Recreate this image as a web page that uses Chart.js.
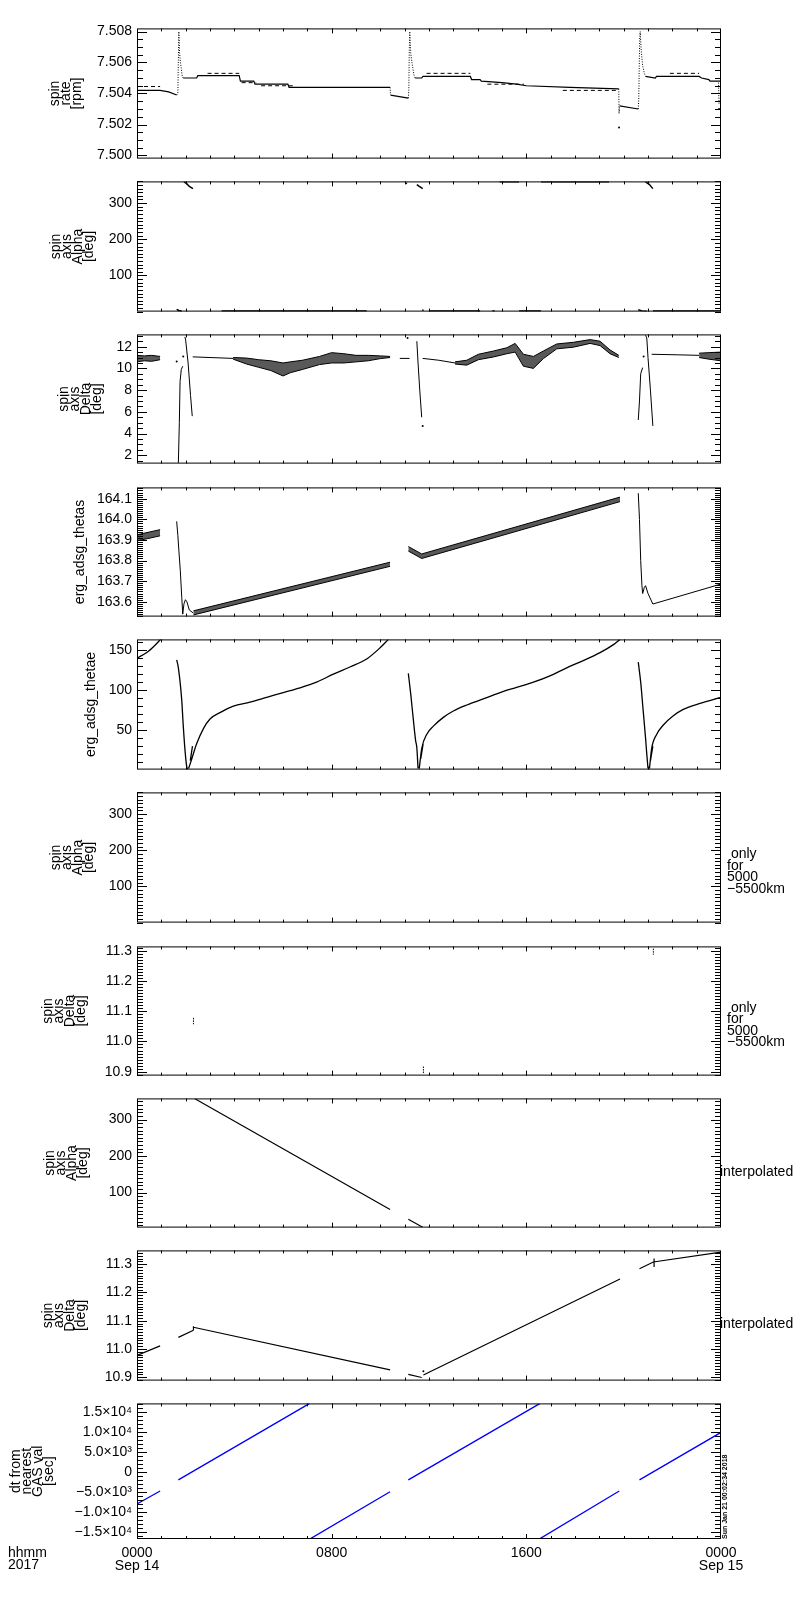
<!DOCTYPE html>
<html>
<head>
<meta charset="utf-8">
<script src="https://cdn.jsdelivr.net/npm/chart.js@4.4.1/dist/chart.umd.min.js"></script>
<style>
  html, body { margin: 0; padding: 0; background: #fff; }
  #page { position: relative; width: 800px; height: 1600px; overflow: hidden; }
  .panel { position: absolute; left: 0; width: 800px; }
</style>
</head>
<body>
<div id="page"></div>
<script>
// x axis: hours since 0000 Sep 14 2017
const hourTicks = [0, 8, 16, 24];
const hourLabels = [['0000', 'Sep 14'], ['0800'], ['1600'], ['0000', 'Sep 15']];

// y tick values per panel
const rateTicks = [7.500, 7.502, 7.504, 7.506, 7.508];
const alphaTicks = [100, 200, 300];
const deltaTicks = [2, 4, 6, 8, 10, 12];
const thetasTicks = [163.6, 163.7, 163.8, 163.9, 164.0, 164.1];
const thetaeTicks = [50, 100, 150];
const deltaFineTicks = [10.9, 11.0, 11.1, 11.2, 11.3];
const dtTicks = [-15000, -10000, -5000, 0, 5000, 10000, 15000];

// spin rate [rpm]
const rateT = [[0, 0.95, 1.3, 1.63],
  [1.90, 2.45, 2.5, 4.2, 4.25, 4.8, 4.85, 6.2, 6.25, 10.4],
  [10.42, 11.15],
  [11.43, 11.7, 11.75, 13.7, 13.75, 14.1, 14.15, 15.0, 15.6, 16.0, 17.8, 19.8],
  [19.83, 20.6],
  [20.9, 21.3, 21.35, 23.1, 23.2, 23.5, 23.55, 24]];
const rateV = [[7.5042, 7.5042, 7.5041, 7.5039],
  [7.5050, 7.5050, 7.50515, 7.50515, 7.5048, 7.5048, 7.5046, 7.5046, 7.5044, 7.5044],
  [7.5039, 7.5037],
  [7.5050, 7.5050, 7.5051, 7.5051, 7.5049, 7.5049, 7.5048, 7.5047, 7.5046, 7.5045, 7.5044, 7.5043],
  [7.5032, 7.5030],
  [7.5051, 7.5050, 7.5051, 7.5051, 7.5050, 7.5049, 7.5048, 7.5048]];
const rateSpikeT = [[1.63, 1.68, 1.70, 1.72, 1.75, 1.78, 1.82, 1.86, 1.90],
  [10.4, 10.42],
  [11.15, 11.17, 11.19, 11.21, 11.25, 11.30, 11.38, 11.43],
  [19.8, 19.81, 19.83],
  [20.6, 20.62, 20.64, 20.66, 20.68, 20.72, 20.78, 20.85, 20.9],
  [23.9, 23.92]];
const rateSpikeV = [[7.5039, 7.5040, 7.5062, 7.5080, 7.5066, 7.5061, 7.5056, 7.5051, 7.5050],
  [7.5044, 7.5039],
  [7.5037, 7.5042, 7.5068, 7.5080, 7.5066, 7.5060, 7.5052, 7.5050],
  [7.5043, 7.5027, 7.5032],
  [7.5030, 7.5036, 7.5058, 7.5076, 7.5080, 7.5068, 7.5058, 7.5053, 7.5051],
  [7.5047, 7.5033]];
const rateLevelT = [[0, 0.95], [2.9, 4.2], [4.3, 4.9], [5.1, 6.4], [11.9, 13.7], [14.4, 15.9], [17.5, 19.8], [21.9, 23.1]];
const rateLevelV = [[7.50445, 7.50445], [7.5053, 7.5053], [7.5047, 7.5047], [7.5045, 7.5045],
  [7.5053, 7.5053], [7.5046, 7.5046], [7.5042, 7.5042], [7.5053, 7.5053]];
const rateDotT = [19.81, 23.92];
const rateDotV = [7.5018, 7.5030];

// spin axis Alpha [deg]
const alphaT = [[1.63, 1.72, 1.84], [1.93, 2.05, 2.15, 2.30], [3.48, 9.44], [11.06, 11.1],
  [11.5, 11.6, 11.74], [11.74, 11.76], [12.0, 14.1], [14.6, 14.7], [15.7, 16.6], [14.9, 15.7],
  [16.6, 19.4], [20.6, 20.75, 20.95], [20.9, 21.05, 21.2], [21.2, 24]];
const alphaV = [[6, 3, 1], [359, 353, 346, 340], [2, 2], [355, 354],
  [351, 346, 340], [6, 2], [2, 2], [2, 2], [2, 2], [359, 359],
  [359, 359], [5, 2, 1], [359, 352, 340], [2, 2]];

// spin axis Delta [deg]
const deltaT = [[1.70, 1.74, 1.77, 1.82, 1.88], [1.97, 2.0, 2.1, 2.2, 2.27], [2.29, 3.0, 3.95],
  [10.8, 11.2], [11.5, 11.55, 11.62, 11.7], [11.74, 12.4, 13.07],
  [20.6, 20.65, 20.7, 20.78], [20.9, 20.95, 21.0, 21.1, 21.2], [21.15, 22.2, 23.1]];
const deltaV = [[1.3, 5, 8.8, 9.9, 10.2], [12.9, 12.6, 10.5, 7.5, 5.6], [11.06, 11.0, 10.92],
  [10.92, 10.92], [12.5, 10.5, 8, 5.5], [10.92, 10.75, 10.5],
  [5.25, 7.0, 9.5, 10.07], [13.05, 12.8, 11.0, 8, 4.7], [11.3, 11.25, 11.2]];
const deltaDotT = [1.63, 1.90, 11.12, 11.74, 20.82];
const deltaDotV = [10.64, 11.1, 12.8, 4.7, 11.1];
const deltaBandT = [[0, 0.3, 0.6, 0.95],
  [3.95, 4.5, 5.0, 5.5, 6.0, 6.3, 6.8, 7.5, 8.0, 8.5, 9.0, 9.5, 10.0, 10.4],
  [13.07, 13.55, 14.03, 14.65, 15.2, 15.54, 15.88, 16.29, 16.7, 17.25, 17.93, 18.62, 19.03, 19.44, 19.8],
  [23.1, 23.5, 24]];
const deltaBandHi = [[11.2, 11.15, 11.2, 11.1],
  [11.0, 10.95, 10.8, 10.7, 10.5, 10.6, 10.75, 11.1, 11.45, 11.35, 11.2, 11.2, 11.15, 11.1],
  [10.6, 10.75, 11.3, 11.6, 11.9, 12.3, 11.3, 11.1, 11.6, 12.25, 12.4, 12.65, 12.5, 11.7, 11.2],
  [11.4, 11.45, 11.5]];
const deltaBandLo = [[10.6, 10.7, 10.65, 10.8],
  [10.85, 10.4, 10.1, 9.8, 9.3, 9.6, 9.9, 10.35, 10.5, 10.5, 10.6, 10.7, 10.9, 11.0],
  [10.4, 10.3, 10.8, 11.05, 11.35, 11.5, 10.2, 10.0, 10.9, 11.8, 11.95, 12.3, 12.1, 11.35, 11.0],
  [11.0, 10.85, 10.7]];

// erg_adsg_thetas
const thetasT = [[1.63, 1.68, 1.72, 1.78, 1.84, 1.88, 1.93, 1.99, 2.05, 2.15, 2.32],
  [20.6, 20.65, 20.7, 20.75, 20.78, 20.85, 20.9, 21.0, 21.2, 24]];
const thetasV = [[163.99, 163.92, 163.85, 163.75, 163.62, 163.54, 163.59, 163.61, 163.60, 163.56, 163.545],
  [164.127, 164.0, 163.8, 163.68, 163.64, 163.67, 163.678, 163.64, 163.589, 163.686]];
const thetasBandT = [[0, 0.95], [2.32, 10.4], [11.15, 11.7, 19.85]];
const thetasBandHi = [[163.925, 163.95], [163.556, 163.792], [163.868, 163.832, 164.108]];
const thetasBandLo = [[163.895, 163.92], [163.536, 163.772], [163.846, 163.81, 164.086]];

// erg_adsg_thetae
const thetaeT = [[0, 0.4, 0.7, 0.97],
  [1.63, 1.70, 1.84, 1.90, 1.97, 2.04, 2.08],
  [2.12, 2.25, 2.45, 2.73, 3.0, 3.41, 3.96, 4.64, 5.33, 6.01, 6.7, 7.38, 8.07, 8.75, 9.44, 9.99, 10.33],
  [2.19, 2.28],
  [11.15, 11.25, 11.35, 11.45, 11.5, 11.55],
  [11.6, 11.7, 11.91, 12.18, 12.59, 13.0, 13.55, 14.23, 14.92, 15.6, 16.29, 16.97, 17.66, 18.34, 19.03, 19.58, 19.85],
  [11.66, 11.76],
  [20.6, 20.7, 20.8, 20.9, 20.95, 21.0],
  [21.06, 21.15, 21.36, 21.63, 22.04, 22.45, 23.14, 24],
  [21.1, 21.2]];
const thetaeV = [[140, 147, 155, 163.5],
  [138, 128, 87, 56, 26, 5, 1],
  [2, 14, 33, 52, 64, 72, 80, 85, 91, 97, 103, 110, 120, 129, 139, 153, 163.5],
  [12, 30],
  [121, 95, 65, 37, 28, 2],
  [2, 27, 45, 55, 66, 74, 81.5, 89, 97, 103.5, 110, 118, 128, 137, 147, 157, 163.5],
  [14, 33],
  [135, 110, 75, 40, 20, 2],
  [2, 27, 45, 56.5, 68, 76, 83.5, 91],
  [12, 30]];

// spin axis Delta, 5000-5500 km only
const deltaKmT = [[2.32, 2.32], [11.77, 11.77], [21.22, 21.22]];
const deltaKmV = [[11.078, 11.057], [10.917, 10.893], [11.307, 11.287]];

// spin axis Alpha, interpolated
const alphaIntT = [[2.38, 10.4], [11.15, 11.74]];
const alphaIntV = [[357.5, 53.7], [26.6, 4.7]];

// spin axis Delta, interpolated
const deltaIntT = [[0, 0.95], [1.7, 2.32], [2.32, 10.4], [11.15, 11.7], [11.77, 19.85],
  [20.65, 21.22, 24], [2.32, 2.32], [21.25, 21.25]];
const deltaIntV = [[10.977, 11.011], [11.041, 11.066], [11.077, 10.926], [10.910, 10.899], [10.908, 11.248],
  [11.284, 11.308, 11.343], [11.066, 11.08], [11.29, 11.32]];
const deltaIntDotT = [11.77];
const deltaIntDotV = [10.921];

// dt from nearest GAS val [sec]
const dtT = [[0, 0.95], [1.7, 7.08], [7.1, 10.4], [11.15, 16.55], [16.53, 19.82], [20.65, 24]];
const dtV = [[-8029, -4808], [-2016, 17050], [-16827, -4976], [-2016, 17050], [-16827, -4808], [-2016, 9856]];

const FONT = "'Liberation Sans', Arial, sans-serif";
const PANEL_TOPS = [23, 176, 329, 482, 634, 787, 941, 1093, 1245, 1398];
const PANEL_BOTTOMS = [164, 317, 469, 622, 775, 928, 1081, 1233, 1386, 1539];
const PLOT_LEFT = 137, PLOT_RIGHT = 721;

function segs(T, V) {
  const pts = [];
  T.forEach((s, k) => {
    s.forEach((t, i) => pts.push({ x: t, y: V[k][i] }));
    pts.push({ x: s[s.length - 1], y: null });
  });
  return pts;
}
function lines(T, V, extra) {
  return Object.assign({ data: segs(T, V), borderColor: '#000', borderWidth: 1.2, pointRadius: 0,
    spanGaps: false, fill: false, tension: 0 }, extra || {});
}
function dots(T, V, color) {
  return { data: T.map((t, i) => ({ x: t, y: V[i] })), showLine: false, pointRadius: 1,
    pointBackgroundColor: color || '#000', pointBorderWidth: 0, borderColor: color || '#000' };
}
function bands(T, hi, lo) {
  const out = [];
  T.forEach((s, k) => {
    out.push({ data: s.map((t, i) => ({ x: t, y: hi[k][i] })), borderColor: '#000', borderWidth: 1,
      pointRadius: 0, fill: false });
    out.push({ data: s.map((t, i) => ({ x: t, y: lo[k][i] })), borderColor: '#000', borderWidth: 1,
      pointRadius: 0, fill: '-1', backgroundColor: 'rgba(0,0,0,0.65)' });
  });
  return out;
}
function sci(v) {
  if (v === 0) return '0';
  const sup = { 3: '\u00b3', 4: '\u2074' };
  const e = Math.floor(Math.log10(Math.abs(v)));
  const m = v / Math.pow(10, e);
  return (m < 0 ? '\u2212' : '') + Math.abs(m).toFixed(1) + '\u00d710' + sup[e];
}

// IDL style frame: box, inward ticks on all four sides, side notes
const idlFrame = {
  id: 'idlFrame',
  afterDatasetsDraw(chart, args, opts) {
    const { ctx, chartArea: a, scales: { x, y } } = chart;
    ctx.save();
    ctx.strokeStyle = '#000';
    ctx.lineWidth = 1;
    ctx.strokeRect(a.left + 0.5, a.top + 0.5, a.width - 1, a.height - 1);
    ctx.beginPath();
    const k0 = Math.ceil(y.min / opts.minor - 1e-6), k1 = Math.floor(y.max / opts.minor + 1e-6);
    for (let k = k0; k <= k1; k++) {
      const v = k * opts.minor;
      const major = opts.major.some(m => Math.abs(m - v) < opts.minor / 10);
      const len = major ? 10 : 6;
      const py = Math.round(y.getPixelForValue(v)) + 0.5;
      ctx.moveTo(a.left, py); ctx.lineTo(a.left + len, py);
      ctx.moveTo(a.right, py); ctx.lineTo(a.right - len, py);
    }
    for (let h = 1; h < 24; h++) {
      const len = h % 8 === 0 ? 5 : 3;
      const px = Math.round(x.getPixelForValue(h)) + 0.5;
      ctx.moveTo(px, a.top); ctx.lineTo(px, a.top + len);
      ctx.moveTo(px, a.bottom); ctx.lineTo(px, a.bottom - len);
    }
    ctx.stroke();
    ctx.fillStyle = '#000';
    ctx.textBaseline = 'middle';
    ctx.textAlign = 'left';
    const cy = (a.top + a.bottom) / 2;
    if (opts.side) {
      ctx.font = '14px ' + FONT;
      opts.side.lines.forEach((s, i) => ctx.fillText(s, a.right + opts.side.dx, cy + opts.side.dy + i * 11.5));
    }
    if (opts.footer) {
      ctx.font = '14px ' + FONT;
      ctx.fillText('hhmm', 8, a.bottom + 14);
      ctx.fillText('2017', 8, a.bottom + 26.5);
      ctx.save();
      ctx.translate(a.right + 4, a.bottom);
      ctx.rotate(-Math.PI / 2);
      ctx.font = 'bold 7px ' + FONT;
      ctx.fillText('Sun Jan 21 00:02:34 2018', 0, 0);
      ctx.restore();
    }
    ctx.restore();
  }
};

const onlyNote = { lines: [' only', 'for', '5000', '\u22125500km'], dx: 6, dy: -3 };
const interpNote = { lines: ['interpolated'], dx: -1, dy: 9 };

const panels = [
  { title: ['spin', 'rate', '[rpm]'], left: 50, min: 7.4998, max: 7.5082, ticks: rateTicks, minor: 0.0005,
    fmt: v => v.toFixed(3),
    datasets: [lines(rateT, rateV), lines(rateSpikeT, rateSpikeV, { borderWidth: 1, borderDash: [1, 1.5] }),
      lines(rateLevelT, rateLevelV, { borderWidth: 1, borderDash: [4, 3] }), dots(rateDotT, rateDotV)] },
  { title: ['spin', 'axis', 'Alpha', '[deg]'], left: 51, min: 0, max: 360, ticks: alphaTicks, minor: 10,
    fmt: v => String(v), datasets: [lines(alphaT, alphaV, { borderWidth: 1.5 })] },
  { title: ['spin', 'axis', 'Delta', '[deg]'], left: 59, min: 1.23, max: 13.13, ticks: deltaTicks, minor: 0.5,
    fmt: v => String(v),
    datasets: [...bands(deltaBandT, deltaBandHi, deltaBandLo), lines(deltaT, deltaV, { borderWidth: 1 }),
      dots(deltaDotT, deltaDotV)] },
  { title: 'erg_adsg_thetas', left: 75, min: 163.528, max: 164.155, ticks: thetasTicks, minor: 0.01,
    fmt: v => v.toFixed(1),
    datasets: [...bands(thetasBandT, thetasBandHi, thetasBandLo), lines(thetasT, thetasV, { borderWidth: 1 })] },
  { title: 'erg_adsg_thetae', left: 86, min: 0.7, max: 163.5, ticks: thetaeTicks, minor: 10,
    fmt: v => String(v), datasets: [lines(thetaeT, thetaeV, { borderWidth: 1.3, cubicInterpolationMode: 'monotone' })] },
  { title: ['spin', 'axis', 'Alpha', '[deg]'], left: 51, min: 0, max: 360, ticks: alphaTicks, minor: 10,
    fmt: v => String(v), datasets: [], side: onlyNote },
  { title: ['spin', 'axis', 'Delta', '[deg]'], left: 43, min: 10.887, max: 11.3145, ticks: deltaFineTicks, minor: 0.01,
    fmt: v => v.toFixed(1), datasets: [lines(deltaKmT, deltaKmV, { borderWidth: 1, borderDash: [1.5, 1] })], side: onlyNote },
  { title: ['spin', 'axis', 'Alpha', '[deg]'], left: 45, min: 3.8, max: 358.2, ticks: alphaTicks, minor: 10,
    fmt: v => String(v), datasets: [lines(alphaIntT, alphaIntV)], side: interpNote },
  { title: ['spin', 'axis', 'Delta', '[deg]'], left: 43, min: 10.888, max: 11.349, ticks: deltaFineTicks, minor: 0.01,
    fmt: v => v.toFixed(1), datasets: [lines(deltaIntT, deltaIntV), dots(deltaIntDotT, deltaIntDotV)], side: interpNote },
  { title: ['dt from', 'nearest', 'GAS val', '[sec]'], left: 11, min: -16800, max: 17100, ticks: dtTicks, minor: 1000,
    fmt: v => sci(v), datasets: [lines(dtT, dtV, { borderColor: '#0000ff', borderWidth: 1.3 })], footer: true }
];

const page = document.getElementById('page');
panels.forEach((p, i) => {
  const top = PANEL_TOPS[i], bottom = PANEL_BOTTOMS[i];
  const last = i === panels.length - 1;
  const boxTop = top - 8;
  const boxH = last ? 1600 - boxTop : bottom - top + 16;
  const div = document.createElement('div');
  div.className = 'panel';
  div.style.top = boxTop + 'px';
  div.style.height = boxH + 'px';
  const cv = document.createElement('canvas');
  div.appendChild(cv);
  page.appendChild(div);

  new Chart(cv, {
    type: 'line',
    data: { datasets: p.datasets },
    options: {
      responsive: true,
      maintainAspectRatio: false,
      animation: false,
      events: [],
      layout: { padding: { left: p.left, right: 800 - PLOT_RIGHT, top: 8, bottom: last ? 0 : 8 } },
      plugins: {
        legend: { display: false },
        tooltip: { enabled: false },
        idlFrame: { minor: p.minor, major: p.ticks, side: p.side, footer: p.footer }
      },
      scales: {
        x: {
          type: 'linear', min: 0, max: 24, bounds: 'data', display: last,
          grid: { display: false, drawTicks: false }, border: { display: false },
          afterBuildTicks: s => { s.ticks = hourTicks.map(v => ({ value: v })); },
          afterFit: s => { if (last) s.height = 1600 - bottom; },
          ticks: { padding: 8, maxRotation: 0, autoSkip: false, color: '#000',
            font: { family: FONT, size: 14, lineHeight: '12.5px' },
            callback: (v, idx) => hourLabels[idx] }
        },
        y: {
          type: 'linear', min: p.min, max: p.max, bounds: 'data',
          grid: { display: false, drawTicks: false }, border: { display: false },
          afterBuildTicks: s => { s.ticks = p.ticks.map(v => ({ value: v })); },
          afterFit: s => { s.width = PLOT_LEFT - p.left; },
          ticks: { padding: 5, color: '#000', autoSkip: false, font: { family: FONT, size: 14 },
            callback: v => p.fmt(v) },
          title: { display: true, text: p.title, color: '#000', padding: 0,
            font: { family: FONT, size: 14, lineHeight: '11px' } }
        }
      }
    },
    plugins: [idlFrame]
  });
});
</script>
</body>
</html>
